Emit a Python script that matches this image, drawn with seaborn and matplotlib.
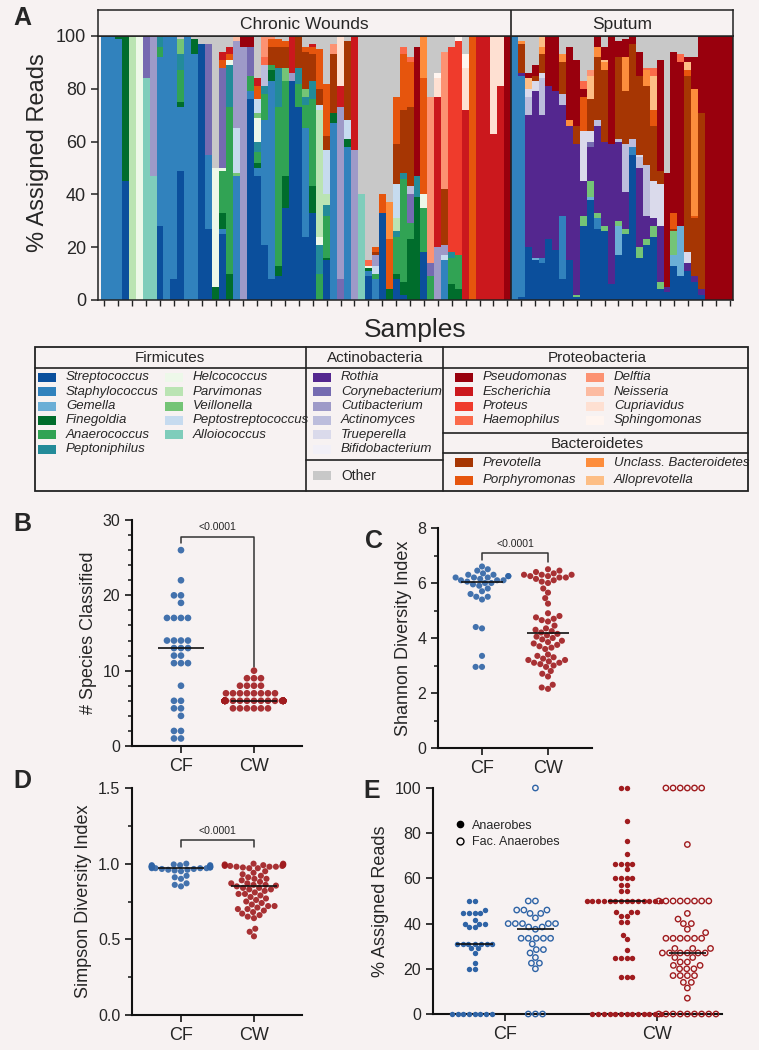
import numpy as np
import pandas as pd
import matplotlib
matplotlib.use("Agg")
import matplotlib.pyplot as plt
import seaborn as sns
from matplotlib.patches import Rectangle
from matplotlib.lines import Line2D
from matplotlib.ticker import MultipleLocator

sns.set_style("ticks")
plt.rcParams["font.family"] = ["Liberation Sans", "DejaVu Sans"]

BG = "#f7f2f2"
CF_COLOR = "#2f64a6"
CW_COLOR = "#a01c1f"
W, H = 759, 1050

# ---------------- genera (legend order) ----------------
firm_names = ["Streptococcus", "Staphylococcus", "Gemella", "Finegoldia", "Anaerococcus",
              "Peptoniphilus", "Helcococcus", "Parvimonas", "Veillonella",
              "Peptostreptococcus", "Alloiococcus"]
firm_codes = ["Str", "Sta", "Gem", "Fin", "Ana", "Pep", "Hel", "Par", "Vei", "Pst", "All"]
firm_colors = ["#0b4f9c", "#3182bd", "#6baed6", "#006d2c", "#31a354", "#238b99",
               "#edf8e9", "#bae4b3", "#74c476", "#c6dbef", "#7fcdbb"]

actino_names = ["Rothia", "Corynebacterium", "Cutibacterium", "Actinomyces",
                "Trueperella", "Bifidobacterium"]
actino_codes = ["Rot", "Cor", "Cut", "Act", "Tru", "Bif"]
actino_colors = ["#54278f", "#756bb1", "#9e9ac8", "#bcbddc", "#dadaeb", "#f2f0f7"]

bact_names = ["Prevotella", "Porphyromonas", "Unclass. Bacteroidetes", "Alloprevotella"]
bact_codes = ["Pre", "Por", "Unc", "Alp"]
bact_colors = ["#a63603", "#e6550d", "#fd8d3c", "#fdbe85"]

proteo_names = ["Pseudomonas", "Escherichia", "Proteus", "Haemophilus",
                "Delftia", "Neisseria", "Cupriavidus", "Sphingomonas"]
proteo_codes = ["Pse", "Esc", "Pro", "Hae", "Del", "Nei", "Cup", "Sph"]
proteo_colors = ["#99000d", "#cb181d", "#ef3b2c", "#fb6a4a",
                 "#fc9272", "#fcbba1", "#fee0d2", "#fff5f0"]

other_color = "#c8c8c8"

# ---------------- panel A: per-sample composition, bottom to top (% reads) ----------------
# remainder up to 100 is "Other"
chronic_wound_bars = [
    "Sta 100", "Sta 100", "Sta 99 Fin 1", "Str 45 Fin 55", "Par 100", "Hel 100",
    "All 84 Cor 16", "All 47 Cut 53", "Str 28 Sta 64 Ana 4 Pep 4", "Sta 100",
    "Str 8 Sta 92", "Str 49 Sta 24 Fin 2 Ana 12 Pep 6 Vei 6", "Sta 100", "Sta 93 Fin 6",
    "Str 97", "Str 27 Sta 28 Cor 42", "Fin 5 Hel 45",
    "Str 25 Sta 2 Fin 6 Ana 16 Hel 1 Cor 38 Por 3 Esc 3",
    "Fin 10 Ana 63 Pep 16 Hel 2 Por 2 Esc 3", "Sta 47 Vei 1 Pst 17 Cut 33 Nei 2",
    "Cut 96 Pse 4", "Str 76 Sta 3 Ana 6 Cor 11 Pse 4",
    "Str 47 Sta 3 Fin 2 Ana 4 Pep 4 Hel 9 Vei 2 Pst 5 Por 5 Esc 3",
    "Str 21 Sta 47 Ana 10 Pep 3 Act 8 Hae 3 Del 8",
    "Str 8 Sta 75 Fin 4 Ana 2 Pre 7 Por 3 Del 1",
    "Str 9 Fin 4 Ana 60 Pep 15 Pre 8 Por 3",
    "Str 35 Fin 12 Ana 36 Vei 5 Pre 8 Por 2", "Str 83 Cut 3 Esc 14",
    "Str 73 Ana 9 Pep 6 Pre 12", "Str 24 Sta 41 Ana 9 Pep 3 Vei 3 Pre 14 Por 2",
    "Str 33 Fin 10 Ana 33 Pep 7 Pre 10 Por 3 Esc 1",
    "Ana 10 Pep 11 Hel 3 Par 48 Pst 2 Pre 6 Por 15",
    "Str 15 Fin 1 Ana 16 Pep 4 Par 4 Pst 17 Pre 5 Por 20",
    "Sta 67 Fin 4 Pre 22 Del 4", "Cor 8 Cut 65 Esc 8 Cup 19",
    "Sta 58 Fin 3 Pst 7 Pre 30", "Cut 57 Esc 43", "All 40",
    "Str 9 Sta 2 Fin 1 Hel 1 Hae 2", "Sta 8 Ana 2 Pst 3 Cut 4 Pre 1 Por 2",
    "Str 33 Por 7", "Fin 4 Por 19 Unc 14",
    "Str 8 Fin 2 Ana 14 Pep 2 Par 5 Pst 13 Pre 15 Por 18",
    "Str 2 Fin 5 Ana 39 Pep 2 Pre 24 Por 21 Hae 3",
    "Fin 23 Ana 6 Cor 11 Act 3 Pre 30 Por 17 Hae 2", "Fin 39 Pep 8 Pse 49",
    "Str 18 Ana 17 Hel 5 Por 44 Unc 16", "Ana 9 Cor 5 Del 63",
    "Cut 20 Esc 57 Cup 7 Sph 2", "Sta 15 Pst 2 Cut 4 Pre 21 Del 52",
    "Fin 6 Ana 10 Pep 2 Pro 78", "Fin 4 Ana 13 Pro 81 Sph 2", "Esc 72 Cup 16 Sph 5",
    "Por 100", "Esc 100", "Esc 100", "Esc 63 Cup 37", "Esc 81 Cup 19", "Pse 100",
]

sputum_bars = [
    "Sta 100", "Str 1 Sta 84 Rot 1 Pre 11 Unc 1",
    "Str 20 Rot 50 Act 7 Tru 3 Alp 4 Pse 2", "Str 15 Gem 1 Rot 63 Tru 4 Pre 2 Pse 4",
    "Str 14 Sta 2 Rot 54 Act 14 Tru 2 Pre 7 Unc 3 Alp 4", "Str 23 Rot 58 Pse 19",
    "Str 19 Rot 60 Pse 21", "Str 8 Sta 24 Rot 42 Act 4 Pre 12 Unc 3",
    "Str 15 Rot 51 Unc 2 Pse 28", "Str 1 Vei 1 Rot 57 Pre 7 Pse 25",
    "Str 28 Vei 4 Rot 13 Tru 19 Por 13 Pse 3 Hae 3",
    "Str 38 Gem 1 Vei 6 Rot 13 Cor 2 Tru 4 Pre 12 Alp 9 Del 2",
    "Str 27 Sta 4 Vei 2 Rot 33 Act 2 Pre 24 Unc 4 Pse 4",
    "Str 26 Vei 2 Rot 32 Pre 27 Unc 3 Alp 1 Pse 5", "Str 6 Rot 53 Pse 41",
    "Str 17 Gem 11 Vei 2 Rot 30 Act 1 Pre 31 Pse 6",
    "Str 25 Vei 2 Rot 14 Act 18 Pre 20 Unc 13 Pse 7", "Str 55 Sta 3 Act 3 Pre 36 Pse 3",
    "Str 16 Vei 4 Rot 30 Act 4 Tru 1 Pre 30 Pse 9",
    "Str 21 Vei 2 Rot 9 Act 19 Pre 30 Unc 6 Hae 1",
    "Str 24 Vei 4 Rot 3 Tru 14 Pre 21 Por 6 Alp 13 Hae 3",
    "Str 4 Vei 3 Rot 21 Tru 16 Pre 5 Pse 42", "Str 3 Rot 2 Pse 43",
    "Str 13 Gem 4 Vei 9 Pre 1 Por 6 Pse 61", "Str 9 Gem 19 Pse 62 Hae 3",
    "Str 11 Rot 3 Tru 4 Pre 67 Por 2 Alp 3 Pse 2",
    "Str 7 Rot 2 Pre 22 Por 1 Unc 48 Pse 12", "Str 2 Rot 2 Pre 67 Pse 29",
    "Pse 100", "Pse 100", "Pse 100", "Pse 100",
]

# ---------------- panels B-D: per-sample diversity ----------------
species_cf = [26, 22, 20, 20, 19, 17, 17, 17, 17, 14, 14, 14, 14, 13, 13, 13,
              12, 12, 11, 11, 11, 8, 6, 6, 5, 5, 4, 2, 2, 1, 1]
species_cw_values = [10, 9, 8, 7, 6, 5]
species_cw_counts = [1, 3, 4, 8, 38, 6]

shannon_cf = [6.6, 6.5, 6.45, 6.35, 6.3, 6.3, 6.25, 6.25, 6.2, 6.2, 6.2, 6.15, 6.1, 6.1,
              6.1, 6.05, 6.0, 6.0, 5.95, 5.9, 5.8, 5.7, 5.6, 5.5, 5.5, 5.4, 4.4, 4.35,
              3.35, 2.95, 2.95]
shannon_cw = [6.5, 6.45, 6.4, 6.35, 6.3, 6.3, 6.3, 6.25, 6.25, 6.2, 6.2, 6.15, 6.1, 6.05,
              6.0, 5.8, 5.65, 5.45, 5.25, 4.9, 4.8, 4.75, 4.7, 4.65, 4.6, 4.45, 4.35, 4.3,
              4.25, 4.2, 4.15, 4.1, 4.05, 4.0, 3.95, 3.9, 3.85, 3.8, 3.75, 3.7, 3.65, 3.6,
              3.4, 3.35, 3.3, 3.25, 3.2, 3.2, 3.15, 3.1, 3.1, 3.05, 3.0, 2.95, 2.8, 2.7,
              2.6, 2.3, 2.15, 2.2]

simpson_cf = [1.0, 0.995, 0.99, 0.99, 0.99, 0.985, 0.985, 0.98, 0.98, 0.98, 0.98, 0.98,
              0.975, 0.975, 0.975, 0.97, 0.97, 0.97, 0.97, 0.965, 0.965, 0.96, 0.96, 0.955,
              0.95, 0.92, 0.91, 0.90, 0.87, 0.86, 0.85]
simpson_cw = [1.0, 1.0, 0.995, 0.995, 0.99, 0.99, 0.99, 0.985, 0.985, 0.985, 0.98, 0.98,
              0.98, 0.975, 0.97, 0.97, 0.95, 0.94, 0.93, 0.92, 0.91, 0.90, 0.90, 0.89,
              0.88, 0.87, 0.87, 0.86, 0.86, 0.855, 0.85, 0.84, 0.84, 0.83, 0.83, 0.82,
              0.81, 0.80, 0.80, 0.79, 0.78, 0.77, 0.76, 0.75, 0.74, 0.73, 0.72, 0.72,
              0.71, 0.70, 0.70, 0.69, 0.68, 0.67, 0.66, 0.65, 0.64, 0.57, 0.55, 0.52]

# ---------------- panel E: % reads from anaerobes (value, number of samples) ----------------
anaer_cf_values = [50, 46, 44.5, 41.5, 40, 38.5, 31, 29, 27, 22.5, 20, 0]
anaer_cf_counts = [2, 1, 4, 1, 3, 2, 7, 2, 1, 1, 2, 8]
fac_cf_values = [100, 50, 46, 44.5, 42.5, 40, 38.5, 37.5, 33.5, 31, 28.5, 27, 25, 22.5, 20, 0]
fac_cf_counts = [1, 2, 3, 2, 1, 5, 2, 1, 5, 1, 2, 1, 1, 2, 1, 3]
anaer_cw_values = [100, 85.5, 76.5, 71, 66.5, 64, 60, 57, 54.5, 50, 45, 43.5, 40.5, 35,
                   33, 28.5, 25, 16.5, 0]
anaer_cw_counts = [2, 1, 1, 1, 4, 1, 4, 2, 2, 14, 3, 2, 2, 1, 1, 1, 4, 3, 13]
fac_cw_values = [100, 75, 50, 44.5, 42, 40, 37.5, 36, 33.5, 29, 27, 25, 23, 21.5, 20, 17,
                 14, 11.5, 7, 0]
fac_cw_counts = [6, 1, 8, 1, 1, 2, 1, 1, 6, 3, 6, 2, 2, 2, 3, 4, 2, 1, 1, 9]


def px_rect(x0, y0, x1, y1):
    return [x0 / W, 1 - y1 / H, (x1 - x0) / W, (y1 - y0) / H]


def parse_bars(bars, offset):
    rows = []
    for i, s in enumerate(bars):
        toks = s.split()
        total = 0.0
        for code, val in zip(toks[::2], toks[1::2]):
            rows.append((offset + i, code, float(val)))
            total += float(val)
        if total < 100:
            rows.append((offset + i, "Oth", 100 - total))
    return rows


fig = plt.figure(figsize=(W / 100, H / 100), dpi=100, facecolor=BG)

# ---------------- panel A ----------------
comp = pd.DataFrame(parse_bars(chronic_wound_bars, 0) +
                    parse_bars(sputum_bars, len(chronic_wound_bars)),
                    columns=["sample", "genus", "pct"])
stack_order = firm_codes + actino_codes + bact_codes + proteo_codes + ["Oth"]
palette = dict(zip(stack_order, firm_colors + actino_colors + bact_colors +
                   proteo_colors + [other_color]))
n_cw = len(chronic_wound_bars)
n_all = n_cw + len(sputum_bars)
split = n_cw - 0.5

ax_a = fig.add_axes(px_rect(98, 36, 733, 300))
ax_a.set_facecolor(BG)
# seaborn stacks the last hue level at the bottom
sns.histplot(data=comp, x="sample", weights="pct", hue="genus",
             hue_order=stack_order[::-1], multiple="stack", discrete=True, shrink=1,
             palette=palette, alpha=1, linewidth=0, legend=False, ax=ax_a)
ax_a.set_xlim(-0.93, n_all - 0.5)
ax_a.set_ylim(0, 100)
ax_a.axvline(split, color="#222222", lw=1.2)
ax_a.set_xticks(np.arange(0, n_all, 2))
ax_a.set_xticklabels([])
ax_a.set_yticks(range(0, 101, 20))
ax_a.tick_params(axis="y", labelsize=13, length=5, width=1.1, color="#222222")
ax_a.tick_params(axis="x", length=4, width=1, color="#222222")
for sp in ax_a.spines.values():
    sp.set_linewidth(1.1)
    sp.set_color("#222222")
ax_a.set_xlabel("Samples", fontsize=19)
ax_a.xaxis.set_label_coords(0.5, -0.068)
ax_a.set_ylabel("% Assigned Reads", fontsize=17)
ax_a.yaxis.set_label_coords(-0.077, 0.56)

ax_h = fig.add_axes(px_rect(98, 10, 733, 36))
ax_h.set_facecolor(BG)
ax_h.set_xlim(-0.93, n_all - 0.5)
ax_h.set_ylim(0, 1)
ax_h.set_xticks([])
ax_h.set_yticks([])
for sp in ax_h.spines.values():
    sp.set_linewidth(1.1)
    sp.set_color("#222222")
ax_h.axvline(split, color="#222222", lw=1.2)
ax_h.text((-0.93 + split) / 2, 0.45, "Chronic Wounds", ha="center", va="center", fontsize=12.5)
ax_h.text((split + n_all - 0.5) / 2, 0.45, "Sputum", ha="center", va="center", fontsize=12.5)


# ---------------- dot panels ----------------
def style_axis(ax, ylim, major, minor, ylabel, xlim):
    ax.set_facecolor(BG)
    sns.despine(ax=ax)
    for side in ("left", "bottom"):
        ax.spines[side].set_linewidth(1.5)
        ax.spines[side].set_color("#111111")
    ax.set_ylim(*ylim)
    ax.set_xlim(*xlim)
    ax.yaxis.set_major_locator(MultipleLocator(major))
    if minor:
        ax.yaxis.set_minor_locator(MultipleLocator(minor))
    ax.tick_params(axis="y", which="major", labelsize=11.5, length=5, width=1.3)
    ax.tick_params(axis="y", which="minor", length=3, width=1.2)
    ax.tick_params(axis="x", labelsize=13, length=5, width=1.3)
    ax.set_xlabel("")
    ax.set_ylabel(ylabel, fontsize=13)
    for coll in ax.collections:
        coll.set_clip_on(False)


def dot_panel(rect, cf_vals, cw_vals, size):
    ax = fig.add_axes(px_rect(*rect))
    df = pd.DataFrame({"group": ["CF"] * len(cf_vals) + ["CW"] * len(cw_vals),
                       "value": list(cf_vals) + list(cw_vals)})
    sns.swarmplot(data=df, x="group", y="value", hue="group", order=["CF", "CW"],
                  palette={"CF": CF_COLOR, "CW": CW_COLOR}, size=size, alpha=0.9,
                  linewidth=0, legend=False, warn_thresh=1, ax=ax)
    for i, vals in enumerate([cf_vals, cw_vals]):
        ax.hlines(np.median(vals), i - 0.32, i + 0.32, color="#111111", lw=1.2, zorder=5)
    return ax


def bracket(ax, y, left_end, right_end, text_y):
    ax.plot([0, 0, 1, 1], [left_end, y, y, right_end], color="#333333", lw=1.1)
    ax.text(0.5, text_y, "<0.0001", ha="center", va="center", fontsize=7.6)


species_cw = np.repeat(species_cw_values, species_cw_counts)

ax_b = dot_panel((132, 520, 302, 746), species_cf, species_cw, 4.8)
style_axis(ax_b, (0, 30), 10, 2, "# Species Classified", (-0.671, 1.658))
bracket(ax_b, 27.8, 27.0, 10.5, 29.1)

ax_c = dot_panel((438, 528, 592, 748), shannon_cf, shannon_cw, 4.4)
style_axis(ax_c, (0, 8), 2, 1, "Shannon Diversity Index", (-0.667, 1.667))
bracket(ax_c, 7.1, 6.85, 6.75, 7.4)

ax_d = dot_panel((132, 788, 302, 1015), simpson_cf, simpson_cw, 4.4)
style_axis(ax_d, (0, 1.5), 0.5, 0.25, "Simpson Diversity Index", (-0.671, 1.658))
bracket(ax_d, 1.158, 1.11, 1.11, 1.218)

# ---------------- panel E ----------------
e_parts = [("CF", "Anaerobes", anaer_cf_values, anaer_cf_counts),
           ("CF", "Fac. Anaerobes", fac_cf_values, fac_cf_counts),
           ("CW", "Anaerobes", anaer_cw_values, anaer_cw_counts),
           ("CW", "Fac. Anaerobes", fac_cw_values, fac_cw_counts)]
e_frames = []
for grp, kind, vals, cnts in e_parts:
    v = np.repeat(vals, cnts)
    e_frames.append(pd.DataFrame({"group": grp, "type": kind, "value": v}))
df_e = pd.concat(e_frames, ignore_index=True)

ax_e = fig.add_axes(px_rect(433, 788, 722, 1014))
sns.swarmplot(data=df_e, x="group", y="value", hue="type", order=["CF", "CW"],
              hue_order=["Anaerobes", "Fac. Anaerobes"], dodge=True, size=3.9,
              palette=["k", "k"], linewidth=0, legend=False, warn_thresh=1, ax=ax_e)
for coll in ax_e.collections:
    offs = coll.get_offsets()
    if len(offs) == 0:
        continue
    mx = offs[:, 0].mean()
    cat = int(round(mx))
    color = [CF_COLOR, CW_COLOR][cat]
    if mx > cat:
        coll.set_facecolor("none")
        coll.set_edgecolor(color)
        coll.set_linewidth(1.0)
    else:
        coll.set_facecolor(color)
        coll.set_edgecolor(color)
for grp, kind, vals, cnts in e_parts:
    xc = ["CF", "CW"].index(grp) + (-0.2 if kind == "Anaerobes" else 0.2)
    med = np.median(np.repeat(vals, cnts))
    ax_e.hlines(med, xc - 0.12, xc + 0.12, color="#111111", lw=1.2, zorder=5)
style_axis(ax_e, (0, 100), 20, None, "% Assigned Reads", (-0.474, 1.428))
handles = [Line2D([], [], marker="o", ls="", color="k", markersize=4.5),
           Line2D([], [], marker="o", ls="", mfc="none", mec="k", markersize=5)]
ax_e.legend(handles, ["Anaerobes", "Fac. Anaerobes"], loc="upper left",
            bbox_to_anchor=(0.03, 0.91), frameon=False, fontsize=9,
            handletextpad=0.3, labelspacing=0.35, handlelength=1.2)

# ---------------- overlay: legend box and panel letters ----------------
ax_o = fig.add_axes([0, 0, 1, 1])
ax_o.set_xlim(0, W)
ax_o.set_ylim(H, 0)
ax_o.axis("off")
line_kw = dict(color="#222222", lw=1.2)
ax_o.add_patch(Rectangle((35, 347), 713, 144, fill=False, ec="#222222", lw=1.3))
ax_o.plot([35, 748], [368, 368], **line_kw)
ax_o.plot([306, 306], [347, 491], **line_kw)
ax_o.plot([443, 443], [347, 491], **line_kw)
ax_o.plot([306, 443], [460, 460], **line_kw)
ax_o.plot([443, 748], [433, 433], **line_kw)
ax_o.plot([443, 748], [453, 453], **line_kw)
for txt, x, y in [("Firmicutes", 170, 358), ("Actinobacteria", 375, 358),
                  ("Proteobacteria", 597, 358), ("Bacteroidetes", 597, 443.5)]:
    ax_o.text(x, y, txt, ha="center", va="center", fontsize=11)


def legend_column(names, colors, x_sw, y0, step=14.4):
    for k, (nm, col) in enumerate(zip(names, colors)):
        y = y0 + k * step
        ax_o.add_patch(Rectangle((x_sw, y - 4.5), 18, 9, fc=col, ec="none"))
        ax_o.text(x_sw + 28, y, nm, ha="left", va="center", fontsize=9.5, style="italic")


legend_column(firm_names[:6], firm_colors[:6], 38, 377.3)
legend_column(firm_names[6:], firm_colors[6:], 165, 377.3)
legend_column(actino_names, actino_colors, 313, 377.3)
legend_column(proteo_names[:4], proteo_colors[:4], 455, 377.3)
legend_column(proteo_names[4:], proteo_colors[4:], 586, 377.3)
legend_column(bact_names[:2], bact_colors[:2], 455, 462.5, step=17.5)
legend_column(bact_names[2:], bact_colors[2:], 586, 462.5, step=17.5)
ax_o.add_patch(Rectangle((313, 471), 18, 9, fc=other_color, ec="none"))
ax_o.text(341, 475.5, "Other", ha="left", va="center", fontsize=10)

for letter, x, y in [("A", 22, 18), ("B", 22, 524), ("C", 374, 541),
                     ("D", 22, 781), ("E", 372, 791)]:
    ax_o.text(x, y, letter, ha="center", va="center", fontsize=18, fontweight="bold")

fig.savefig("out.png", dpi=100, facecolor=BG)
